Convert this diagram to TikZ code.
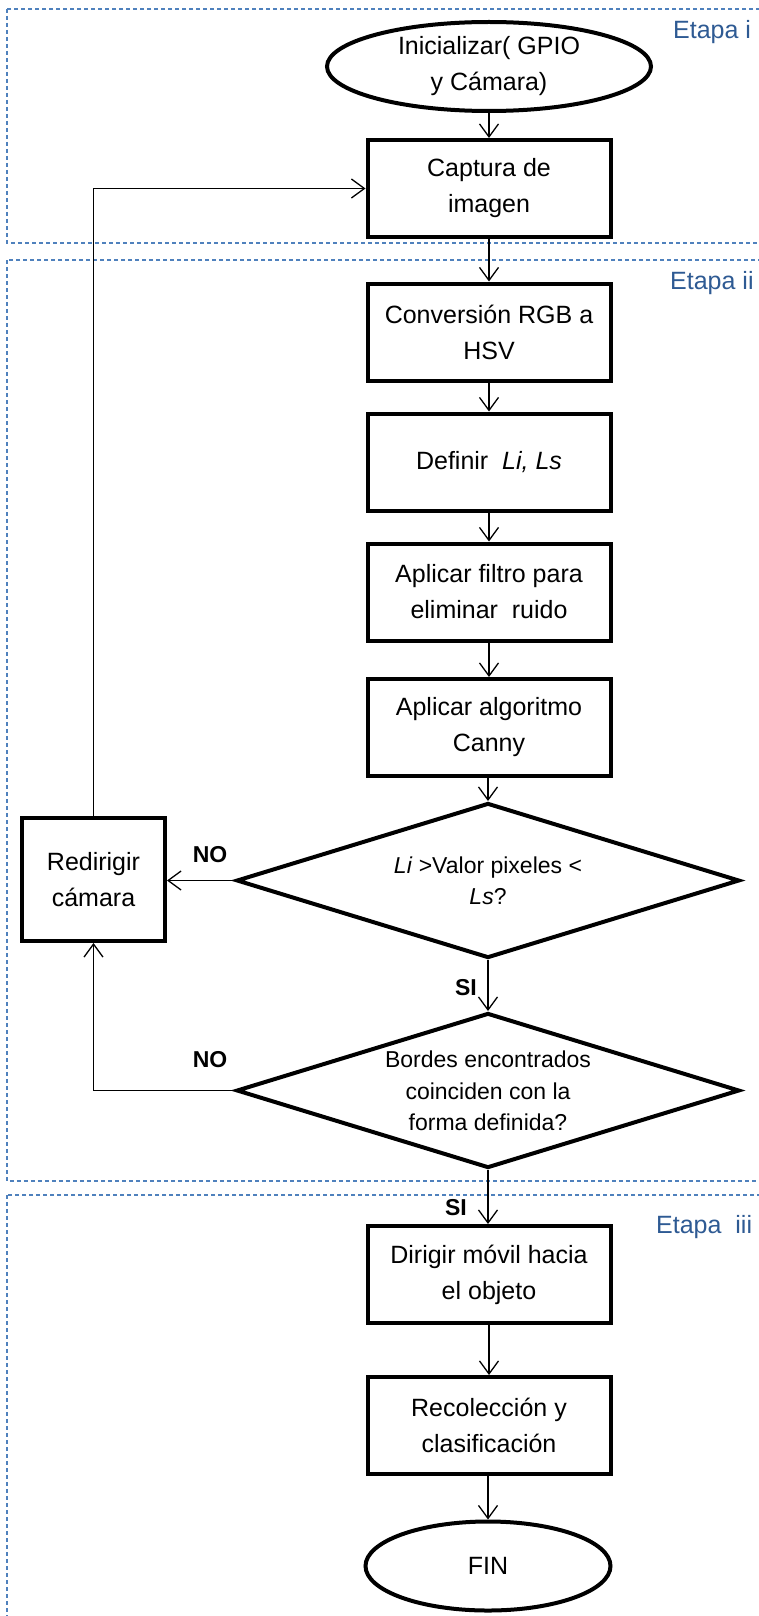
\documentclass[tikz,border=0pt]{standalone}
\usepackage{fontspec}
\setmainfont{Liberation Sans}
\usetikzlibrary{shapes.geometric,arrows.meta}
\definecolor{dashblue}{HTML}{4F81BD}
\definecolor{etapablue}{HTML}{2E5A93}
\tikzset{
  stage/.style={draw=dashblue, line width=1.2pt, dash pattern=on 4pt off 3pt},
  stagelabel/.style={text=etapablue, font=\fontsize{25}{30}\selectfont, anchor=west, inner sep=0pt},
  procbox/.style={draw, line width=4pt, minimum width=243pt, minimum height=97pt, inner sep=0pt, align=center, font=\fontsize{25}{36}\selectfont},
  termin/.style={draw, ellipse, line width=4pt, inner sep=0pt, align=center, font=\fontsize{25}{36}\selectfont},
  decis/.style={draw, diamond, line width=4pt, minimum width=503pt, minimum height=155pt, inner sep=0pt},
  dtext/.style={align=center, inner sep=0pt, font=\fontsize{23}{31.5}\selectfont},
  conn/.style={line width=1.3pt, -{Straight Barb[length=13pt,width=19pt]}},
  flowlabel/.style={font=\fontsize{23}{28}\selectfont\bfseries, inner sep=0pt}
}
\begin{document}
\begin{tikzpicture}[x=1pt,y=-1pt]
\useasboundingbox (0,0) rectangle (759,1616);
\clip (0,0) rectangle (759,1616);
% stages
\draw[stage] (7,9) rectangle (790,243);
\draw[stage] (7,260) rectangle (790,1181);
\draw[stage] (7,1195) rectangle (790,1650);
\node[stagelabel] (l1) at (673,32) {Etapa i};
\node[stagelabel] (l2) at (670,283) {Etapa ii};
\node[stagelabel] (l3) at (656,1227) {Etapa\ \ iii};
% nodes
\node[termin, minimum width=324pt, minimum height=89pt] (ini) at (489,66.5) {Inicializar( GPIO\\y Cámara)};
\node[procbox] (cap) at (489,188.5) {Captura de\\imagen};
\node[procbox] (hsv) at (489,332) {Conversión RGB a\\HSV};
\node[procbox] (def) at (489,462) {Definir\ \ \textit{Li, Ls}};
\node[procbox] (fil) at (489,592) {Aplicar filtro para\\eliminar\ \ ruido};
\node[procbox] (can) at (489,727.5) {Aplicar algoritmo\\Canny};
\node[decis] (d1) at (488,880.5) {};
\node[dtext] (d1t) at (488,881) {\textit{Li} >Valor pixeles <\\\textit{Ls}?};
\node[decis] (d2) at (488,1090.5) {};
\node[dtext] (d2t) at (488,1091) {Bordes encontrados\\coinciden con la\\forma definida?};
\node[procbox, minimum width=143pt, minimum height=123pt] (red) at (93.5,879.5) {Redirigir\\cámara};
\node[procbox] (dir) at (489,1274.5) {Dirigir móvil hacia\\el objeto};
\node[procbox] (rec) at (489,1425.5) {Recolección y\\clasificación};
\node[termin, minimum width=245pt, minimum height=89pt] (fin) at (488,1566) {FIN};
% connectors
\draw[conn] (ini.south) -- (cap.north);
\draw[conn] (cap.south) -- (hsv.north);
\draw[conn] (hsv.south) -- (def.north);
\draw[conn] (def.south) -- (fil.north);
\draw[conn] (fil.south) -- (can.north);
\draw[conn] (can.south -| d1.north) -- (d1.north);
\draw[conn] (d1.west) -- (d1.west -| red.east);
\draw[conn] (d1.south) -- (d2.north);
\draw[conn] (d2.west) -- (d2.west -| red.south) -- (red.south);
\draw[conn] (red.north) |- (cap.west);
\draw[conn] (d2.south) -- (d2.south |- dir.north);
\draw[conn] (dir.south) -- (rec.north);
\draw[conn] (rec.south -| fin.north) -- (fin.north);
% labels
\node[flowlabel] (no1) at (210,855) {NO};
\node[flowlabel] (no2) at (210,1060) {NO};
\node[flowlabel] (si1) at (466,988) {SI};
\node[flowlabel] (si2) at (456,1208) {SI};
\end{tikzpicture}
\end{document}
